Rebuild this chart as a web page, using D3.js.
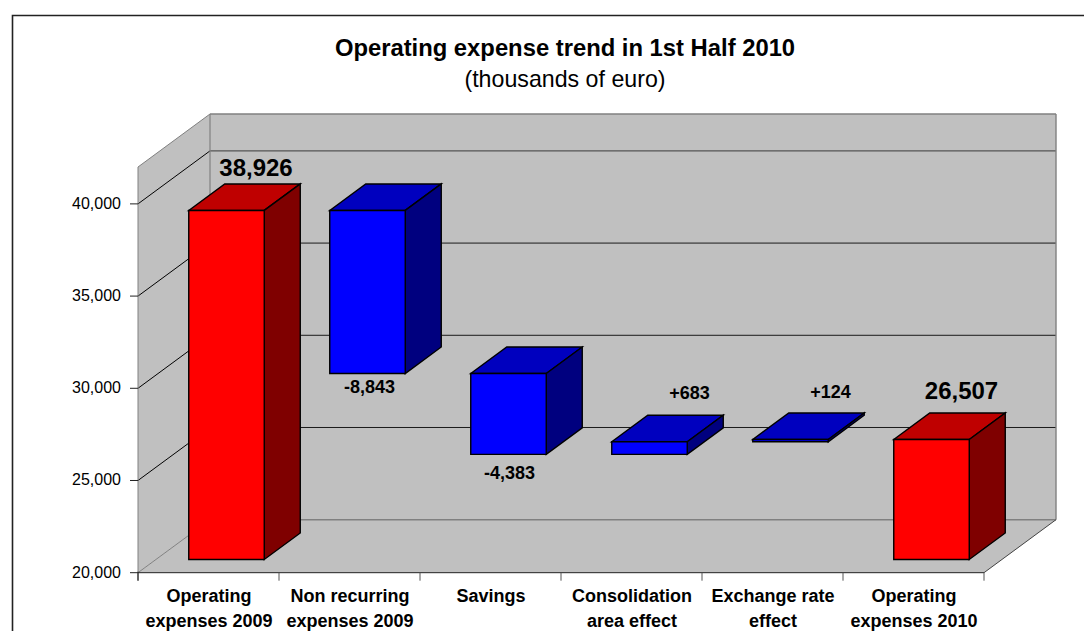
<!DOCTYPE html>
<html>
<head>
<meta charset="utf-8">
<script src="https://cdn.jsdelivr.net/npm/d3@7/dist/d3.min.js"></script>
<style>
html,body{margin:0;padding:0;background:#fff}
svg{display:block}
text{font-family:"Liberation Sans",Arial,sans-serif;fill:#000}
</style>
</head>
<body>
<svg id="chart" width="1084" height="631"></svg>
<script>
// Waterfall of operating expenses, drawn as a 3D column chart.
const categories = [
  ["Operating", "expenses 2009"],
  ["Non recurring", "expenses 2009"],
  ["Savings"],
  ["Consolidation", "area effect"],
  ["Exchange rate", "effect"],
  ["Operating", "expenses 2010"]
];
const barStart = [20000, 38926, 30083, 25700, 26383, 20000];
const barEnd   = [38926, 30083, 25700, 26383, 26507, 26507];
const barKind  = ["total", "delta", "delta", "delta", "delta", "total"];
const valueLabels = ["38,926", "-8,843", "-4,383", "+683", "+124", "26,507"];
const tickValues = [20000, 25000, 30000, 35000, 40000];
const wallColor = "#c0c0c0";
const faces = {
  total: {front: "#ff0000", top: "#bf0000", side: "#7f0000"},
  delta: {front: "#0000ff", top: "#0000bf", side: "#00007f"}
};

const svg = d3.select("#chart");
const y = d3.scaleLinear().domain([20000, 42000]).range([572.7, 167]);
const x = d3.scaleBand().domain(d3.range(categories.length)).range([138, 984]);
const fmt = d3.format(",");

// Full depth of the chart box, and the slice of it a column occupies.
const depth = {dx: 72, dy: -53};
const barWidth = 75.5;
const line = d3.line();
const poly = (g, pts, fill, stroke, sw) => g.append("path")
  .attr("d", line(pts) + "Z").attr("fill", fill)
  .attr("stroke", stroke || "none").attr("stroke-width", sw || 0)
  .attr("stroke-linejoin", "miter");
const seg = (g, a, b, stroke, sw) => g.append("line")
  .attr("x1", a[0]).attr("y1", a[1]).attr("x2", b[0]).attr("y2", b[1])
  .attr("stroke", stroke).attr("stroke-width", sw);

// Outer frame: left and top edges only, the rest runs off the page
svg.append("path").attr("d", "M12.5,631V15.5H1084")
  .attr("fill", "none").attr("stroke", "#222").attr("stroke-width", 1.6);

// Title
svg.append("text").attr("x", 565).attr("y", 56).attr("text-anchor", "middle")
  .attr("font-size", 23.8).attr("font-weight", "bold")
  .text("Operating expense trend in 1st Half 2010");
svg.append("text").attr("x", 565).attr("y", 87).attr("text-anchor", "middle")
  .attr("font-size", 23.2).text("(thousands of euro)");

// Chart box: walls and floor
const box = svg.append("g");
const [x0, x1] = x.range();
const yFloor = y(20000), yTop = y.range()[1];
const back = ([px, py]) => [px + depth.dx, py + depth.dy];
poly(box, [[x0, yFloor], [x0, yTop], back([x0, yTop]), back([x0, yFloor])], wallColor);
poly(box, [back([x0, yTop]), back([x1, yTop]), back([x1, yFloor]), back([x0, yFloor])], wallColor);
poly(box, [[x0, yFloor], [x1, yFloor], back([x1, yFloor]), back([x0, yFloor])], wallColor);

// Gridlines running across the side wall and the back wall
tickValues.forEach(v => {
  const p = [x0, y(v)];
  const isFloor = v === 20000;
  const isHigh = v === 40000;
  seg(box, p, back(p), isFloor ? "#808080" : "#000", 1);
  seg(box, back(p), back([x1, y(v)]),
      isFloor ? "#808080" : (isHigh ? "#555" : "#1a1a1a"), isFloor || isHigh ? 1.4 : 1);
});

// Box edges
seg(box, [x0, yTop], [x0, yFloor], "#808080", 1);
seg(box, [x0, yTop], back([x0, yTop]), "#808080", 1);
seg(box, back([x0, yTop]), back([x1, yTop]), "#808080", 1.4);
seg(box, back([x0, yTop]), back([x0, yFloor]), "#808080", 1.2);
seg(box, back([x1, yTop]), back([x1, yFloor]), "#808080", 1.4);
seg(box, [x1, yFloor], back([x1, yFloor]), "#444", 1);

// Value axis
const axisY = svg.append("g");
tickValues.forEach(v => {
  seg(axisY, [x0 - 8, y(v)], [x0, y(v)], "#222", 1);
  axisY.append("text").attr("x", x0 - 17).attr("y", y(v) + 5)
    .attr("text-anchor", "end").attr("font-size", 16).text(fmt(v));
});
seg(axisY, [x0, yFloor], [x1, yFloor], "#222", 1);
d3.range(categories.length + 1).forEach(i => {
  const px = i === categories.length ? x1 : x(i);
  seg(axisY, [px, yFloor], [px, yFloor + 8], "#555", 1);
});
seg(axisY, [x0, yFloor - 1], [x0, yFloor + 8], "#222", 1);

// Category labels
categories.forEach((lines, i) => {
  const cx = x(i) + x.bandwidth() / 2 + 0.5;
  lines.forEach((t, k) => {
    svg.append("text").attr("x", cx).attr("y", 602 + k * 24.5)
      .attr("text-anchor", "middle").attr("font-size", 18)
      .attr("font-weight", "bold").text(t);
  });
});

// Columns sit a quarter of the way into the box and fill half its depth
const bars = svg.append("g");
const d = {dx: depth.dx / 2, dy: depth.dy / 2};
const frontOffset = {dx: depth.dx / 4, dy: depth.dy / 4};
const barGeom = categories.map((_, i) => {
  const left = x(i) + x.bandwidth() / 2 - barWidth / 2 + frontOffset.dx;
  const hi = Math.max(barStart[i], barEnd[i]);
  const lo = Math.min(barStart[i], barEnd[i]);
  return {
    l: left, r: left + barWidth,
    t: y(hi) + frontOffset.dy, b: y(lo) + frontOffset.dy
  };
});
barGeom.forEach((g, i) => {
  const c = faces[barKind[i]];
  const grp = bars.append("g");
  poly(grp, [[g.l, g.t], [g.r, g.t], [g.r + d.dx, g.t + d.dy], [g.l + d.dx, g.t + d.dy]], c.top, "#000", 1.4);
  poly(grp, [[g.r, g.t], [g.r + d.dx, g.t + d.dy], [g.r + d.dx, g.b + d.dy], [g.r, g.b]], c.side, "#000", 1.4);
  poly(grp, [[g.l, g.t], [g.r, g.t], [g.r, g.b], [g.l, g.b]], c.front, "#000", 1.4);
});

// Value labels were placed by hand around their columns
const labelShift = [
  {dx: 29.5, dy: -8},
  {dx: 2, dy: 19},
  {dx: 1, dy: 25},
  {dx: 40, dy: -16},
  {dx: 40, dy: -15},
  {dx: 30, dy: -14}
];
const labels = svg.append("g");
barGeom.forEach((g, i) => {
  const cx = (g.l + g.r) / 2;
  const falling = barEnd[i] < barStart[i];
  const ly = (falling ? g.b : g.t + d.dy) + labelShift[i].dy;
  labels.append("text").attr("x", cx + labelShift[i].dx).attr("y", ly)
    .attr("text-anchor", "middle")
    .attr("font-size", barKind[i] === "total" ? 24 : 18).attr("font-weight", "bold")
    .text(valueLabels[i]);
});
</script>
</body>
</html>
